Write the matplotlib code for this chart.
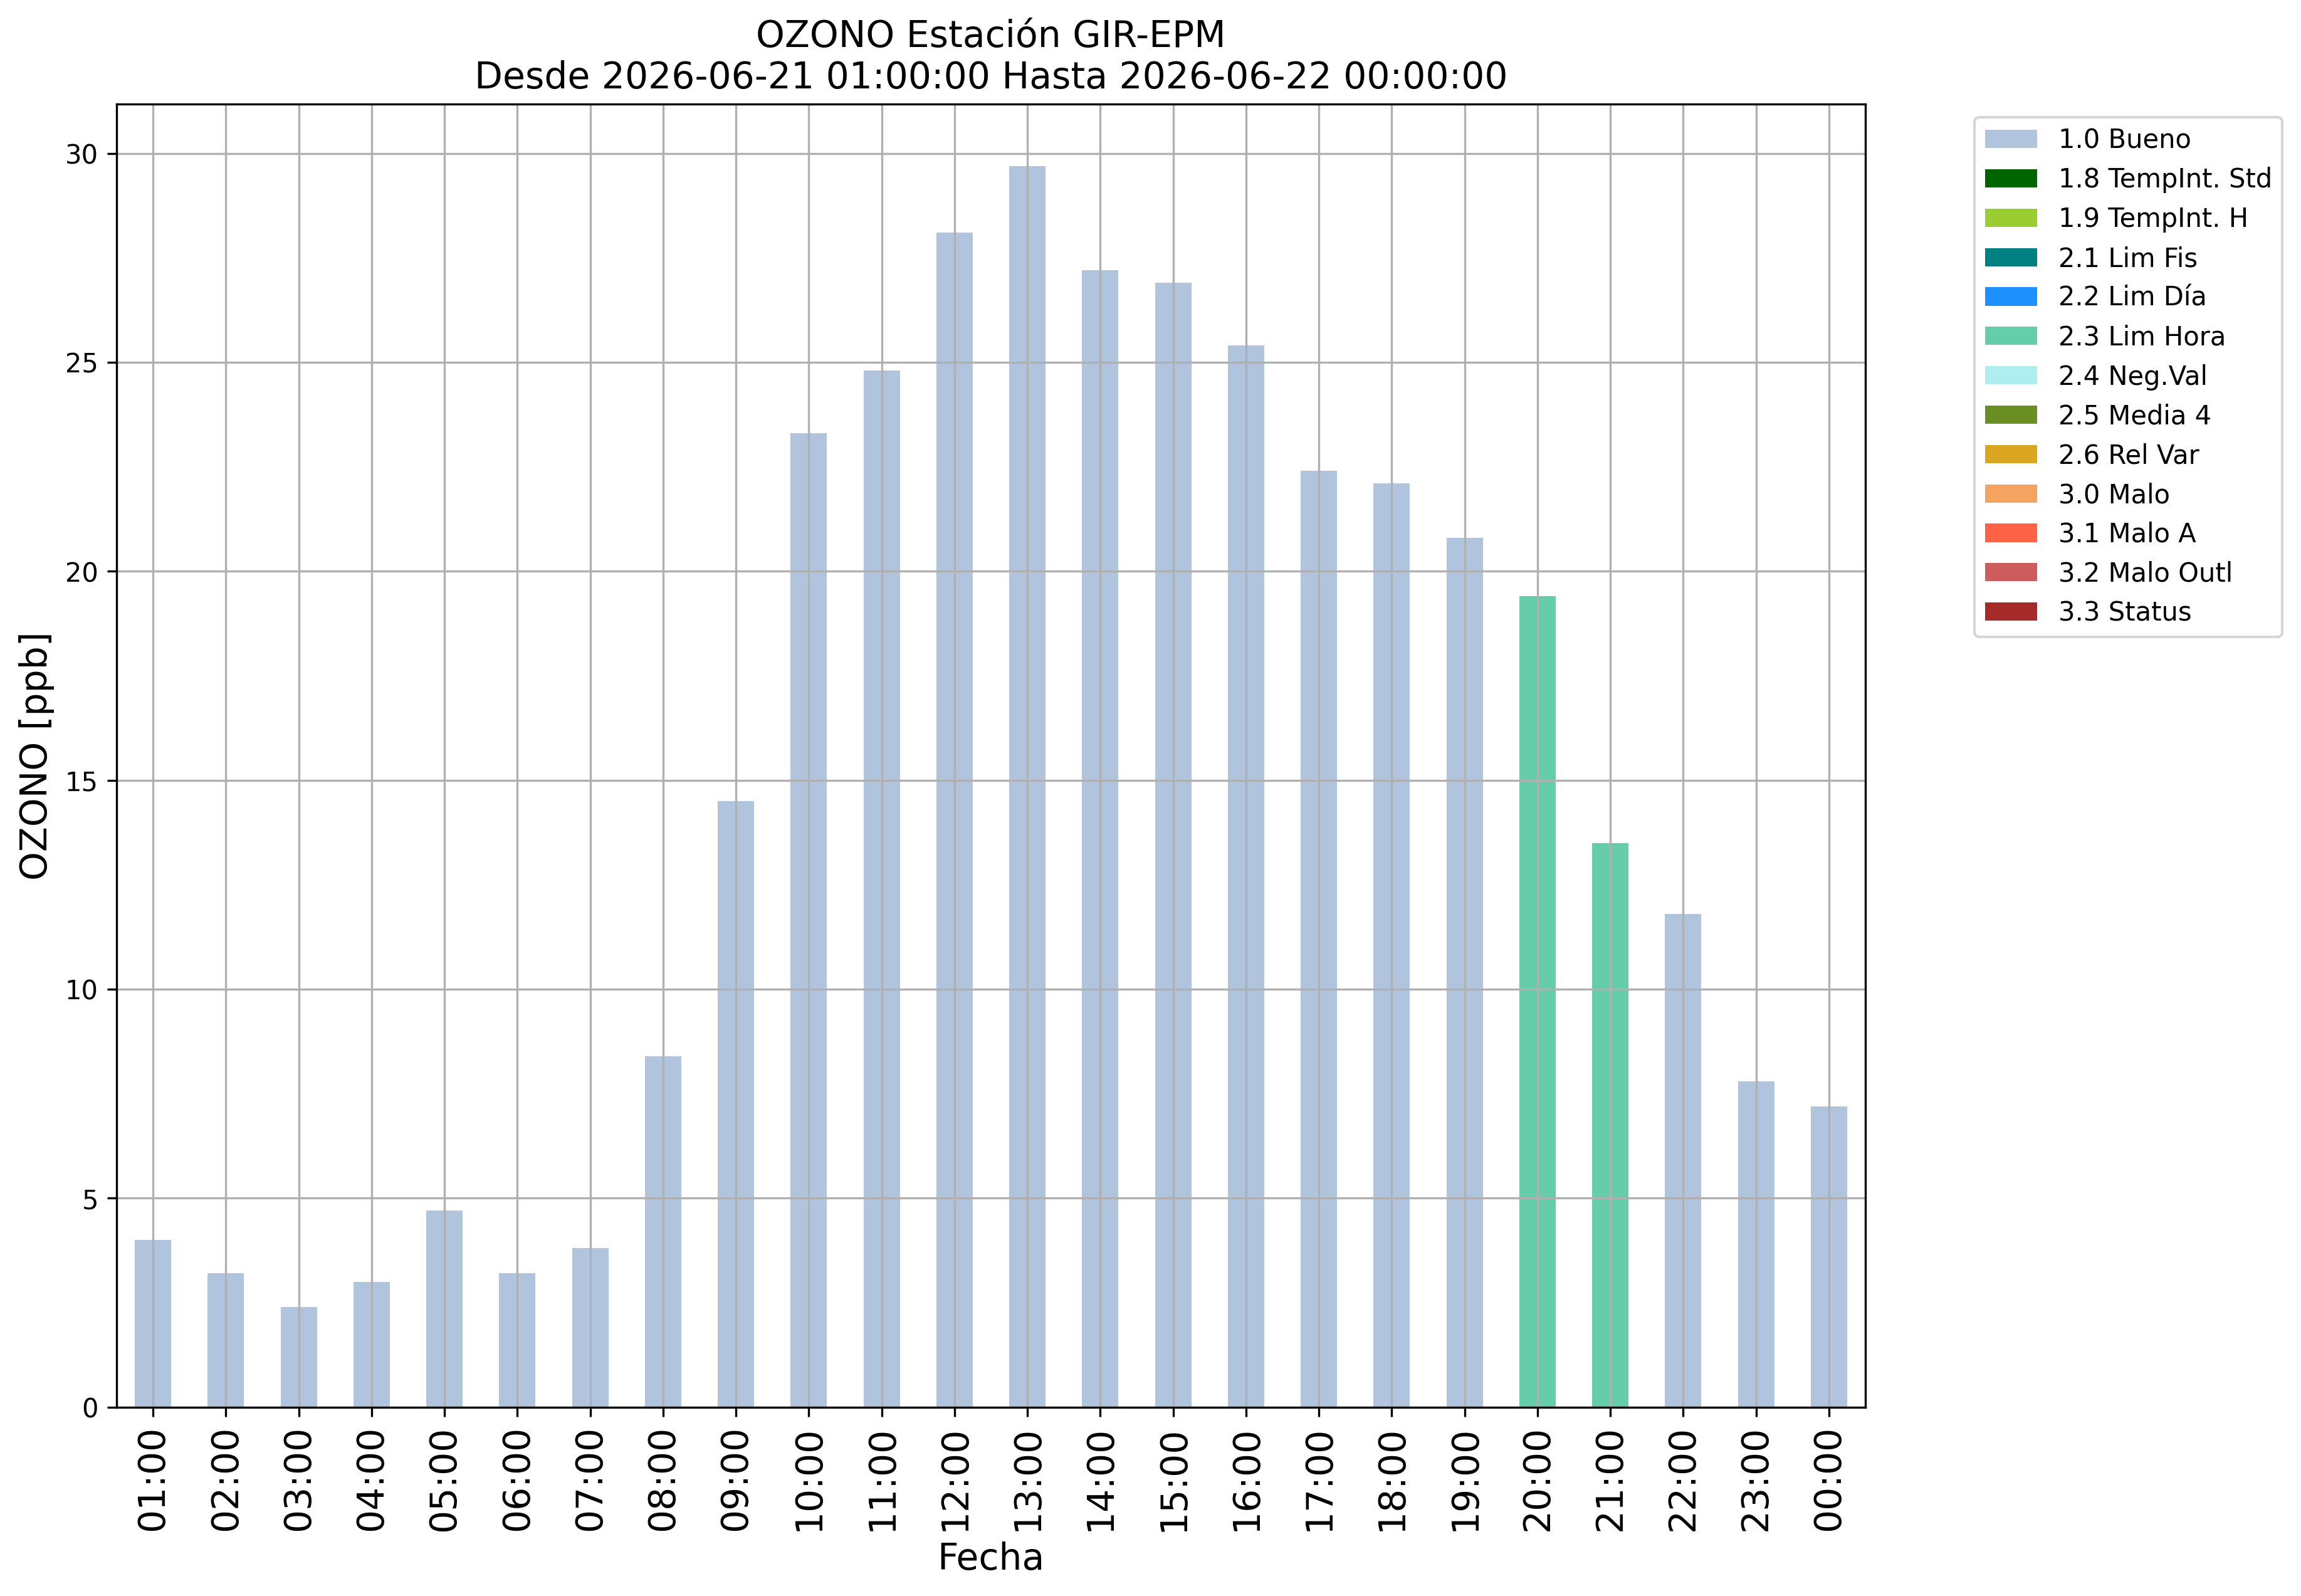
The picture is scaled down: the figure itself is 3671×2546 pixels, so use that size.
import numpy as np
import matplotlib
matplotlib.use("Agg")
import matplotlib.pyplot as plt

# hourly ozone values and their validation flag
hours = ["01:00", "02:00", "03:00", "04:00", "05:00", "06:00", "07:00", "08:00",
         "09:00", "10:00", "11:00", "12:00", "13:00", "14:00", "15:00", "16:00",
         "17:00", "18:00", "19:00", "20:00", "21:00", "22:00", "23:00", "00:00"]
ozono = [4.0, 3.2, 2.4, 3.0, 4.7, 3.2, 3.8, 8.4,
         14.5, 23.3, 24.8, 28.1, 29.7, 27.2, 26.9, 25.4,
         22.4, 22.1, 20.8, 19.4, 13.5, 11.8, 7.8, 7.2]
flags = ["1.0 Bueno"] * 19 + ["2.3 Lim Hora"] * 2 + ["1.0 Bueno"] * 3

flag_names = ["1.0 Bueno", "1.8 TempInt. Std", "1.9 TempInt. H", "2.1 Lim Fis",
              "2.2 Lim Día", "2.3 Lim Hora", "2.4 Neg.Val", "2.5 Media 4",
              "2.6 Rel Var", "3.0 Malo", "3.1 Malo A", "3.2 Malo Outl", "3.3 Status"]
flag_colors = ["lightsteelblue", "darkgreen", "yellowgreen", "teal",
               "dodgerblue", "mediumaquamarine", "paleturquoise", "olivedrab",
               "goldenrod", "sandybrown", "tomato", "indianred", "brown"]

fig, ax = plt.subplots(figsize=(12, 9))
x = np.arange(len(hours))
vals = np.array(ozono)
fl = np.array(flags)

for name, col in zip(flag_names, flag_colors):
    h = np.where(fl == name, vals, np.nan)
    ax.bar(x, h, width=0.5, color=col, label=name)

ax.set_xlim(-0.5, len(hours) - 0.5)
ax.set_xticks(x)
ax.set_xticklabels(hours, rotation=90, fontsize=14)
ax.grid(True)
ax.set_title("OZONO Estación GIR-EPM\nDesde 2026-06-21 01:00:00 Hasta 2026-06-22 00:00:00",
             fontsize=14)
ax.set_xlabel("Fecha", fontsize=14)
ax.set_ylabel("OZONO [ppb]", fontsize=14)
ax.legend(bbox_to_anchor=(1.055, 1), loc="upper left")

plt.savefig("out.png", dpi=300, bbox_inches="tight")
